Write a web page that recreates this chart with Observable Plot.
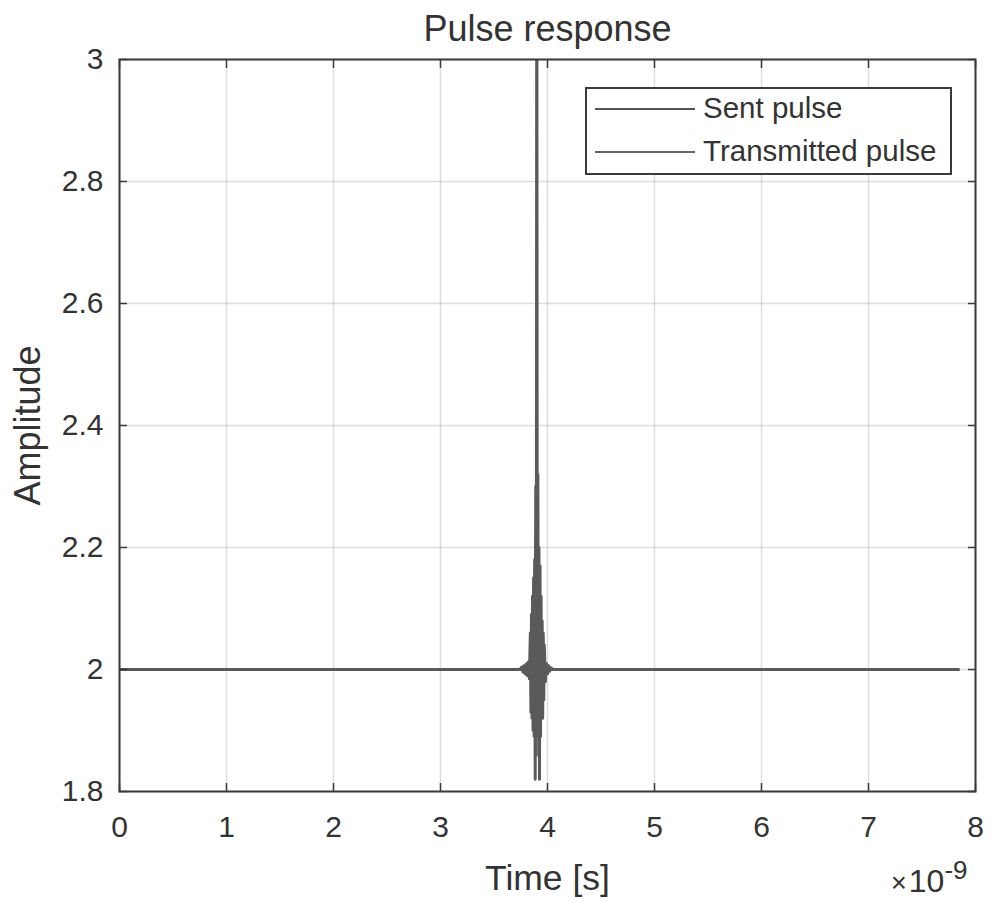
<!DOCTYPE html>
<html>
<head>
<meta charset="utf-8">
<script src="https://cdn.jsdelivr.net/npm/d3@7"></script>
<script src="https://cdn.jsdelivr.net/npm/@observablehq/plot@0.6"></script>
<style>
  html, body { margin: 0; padding: 0; background: #fff; }
  #wrap { position: relative; width: 992px; height: 901px; font-family: "Liberation Sans", Arial, sans-serif; color: #333; overflow: hidden; }
  #legend { position: absolute; left: 585px; top: 87px; width: 363px; height: 84px; border: 2px solid #3a3a3a; background: #fff; }
  .lg { position: absolute; left: 8px; height: 0; width: 100px; border-top: 2px solid #555; }
  .lt { position: absolute; left: 116px; font-size: 29.5px; line-height: 30px; color: #333; white-space: nowrap; }
  #exp { position: absolute; left: 891px; top: 865px; font-size: 32px; line-height: 32px; color: #333; white-space: nowrap; }
  #exp .x { font-size: 27px; margin-right: 2px; }
  #exp sup { font-size: 26px; line-height: 0; position: relative; top: -1px; }
</style>
</head>
<body>
<div id="wrap"></div>
<script>
// time in units of 1e-9 s
const xTicks = [0, 1, 2, 3, 4, 5, 6, 7, 8];
const yTicks = [1.8, 2, 2.2, 2.4, 2.6, 2.8, 3];
const seriesNames = ["Sent pulse", "Transmitted pulse"];

const sentTime = [0, 3.74, 3.76, 3.77, 3.78, 3.79, 3.80, 3.81, 3.82, 3.83, 3.84, 3.845, 3.85, 3.855, 3.86, 3.865, 3.87, 3.875, 3.88, 3.885, 3.89, 3.895, 3.90, 3.905, 3.91, 3.915, 3.92, 3.925, 3.93, 3.935, 3.94, 3.945, 3.95, 3.955, 3.96, 3.965, 3.97, 3.98, 3.99, 4.00, 4.01, 4.02, 4.03, 4.05, 7.84];
const sentAmp  = [2, 2, 2.004, 1.996, 2.006, 1.993, 2.009, 1.99, 2.012, 1.985, 2.06, 1.93, 2.09, 1.92, 2.12, 1.90, 2.15, 1.89, 2.18, 1.82, 2.30, 1.90, 3.3, 1.89, 2.32, 1.90, 2.2, 1.82, 2.17, 1.89, 2.12, 1.92, 2.08, 1.92, 2.06, 1.95, 2.04, 1.98, 2.01, 1.993, 2.006, 1.997, 2.003, 2, 2];

const transTime = [0, 3.76, 3.78, 3.80, 3.82, 3.84, 3.85, 3.86, 3.865, 3.87, 3.875, 3.88, 3.885, 3.89, 3.895, 3.90, 3.905, 3.91, 3.915, 3.92, 3.925, 3.93, 3.935, 3.94, 3.95, 3.96, 3.97, 3.98, 3.99, 4.00, 4.02, 7.84];
const transAmp  = [2, 2, 2.003, 1.995, 2.01, 1.985, 2.03, 2.05, 1.95, 2.1, 1.92, 2.16, 1.9, 2.22, 1.88, 2.25, 1.86, 2.2, 1.88, 2.14, 1.9, 2.1, 1.93, 2.06, 1.96, 2.03, 1.98, 2.01, 1.995, 2.004, 2, 2];

const sent = sentTime.map((t, i) => ({t, a: sentAmp[i]}));
const trans = transTime.map((t, i) => ({t, a: transAmp[i]}));

const chart = Plot.plot({
  width: 992,
  height: 901,
  marginLeft: 119,
  marginRight: 17,
  marginTop: 59,
  marginBottom: 110,
  style: { fontFamily: "Liberation Sans, Arial, sans-serif", fontSize: "30px", color: "#333", background: "#fff", overflow: "visible" },
  x: { domain: [0, 8] },
  y: { domain: [1.8, 3] },
  marks: [
    Plot.gridX(xTicks, { stroke: "#000", strokeOpacity: 0.13, strokeWidth: 1.5 }),
    Plot.gridY(yTicks, { stroke: "#000", strokeOpacity: 0.13, strokeWidth: 1.5 }),
    Plot.line(trans, { x: "t", y: "a", stroke: "#7a7a7a", strokeWidth: 3, clip: true }),
    Plot.line(sent, { x: "t", y: "a", stroke: "#5a5a5a", strokeWidth: 3, clip: true }),
    Plot.axisX(xTicks, { anchor: "bottom", tickSize: 0, tickPadding: 24, label: null, fontSize: 30, tickFormat: d => String(d) }),
    Plot.axisY(yTicks, { anchor: "left", tickSize: 0, tickPadding: 16, label: null, fontSize: 30, tickFormat: d => String(d) }),
    Plot.axisX(xTicks, { anchor: "bottom", tickSize: -8, tickFormat: () => "", label: null, stroke: "#3a3a3a", strokeWidth: 1.5 }),
    Plot.axisX(xTicks, { anchor: "top", tickSize: -8, tickFormat: () => "", label: null, stroke: "#3a3a3a", strokeWidth: 1.5 }),
    Plot.axisY(yTicks, { anchor: "left", tickSize: -8, tickFormat: () => "", label: null, stroke: "#3a3a3a", strokeWidth: 1.5 }),
    Plot.axisY(yTicks, { anchor: "right", tickSize: -8, tickFormat: () => "", label: null, stroke: "#3a3a3a", strokeWidth: 1.5 }),
    Plot.frame({ stroke: "#3a3a3a", strokeWidth: 2 }),
    Plot.text(["Pulse response"], { frameAnchor: "top", dy: -30, lineAnchor: "middle", fontSize: 36, fill: "#333" }),
    Plot.text(["Time [s]"], { frameAnchor: "bottom", dy: 87, lineAnchor: "middle", fontSize: 35.5, fill: "#333" }),
    Plot.text(["Amplitude"], { frameAnchor: "left", dx: -91, rotate: -90, textAnchor: "middle", lineAnchor: "middle", fontSize: 36, fill: "#333" })
  ]
});

const wrap = document.getElementById("wrap");
wrap.appendChild(chart);

const legend = document.createElement("div");
legend.id = "legend";
seriesNames.forEach((name, i) => {
  const ln = document.createElement("div");
  ln.className = "lg";
  ln.style.top = (19 + i * 43) + "px";
  ln.style.borderTopColor = i === 0 ? "#555" : "#666";
  legend.appendChild(ln);
  const tx = document.createElement("div");
  tx.className = "lt";
  tx.style.top = (4 + i * 43) + "px";
  tx.textContent = name;
  legend.appendChild(tx);
});
wrap.appendChild(legend);

const exp = document.createElement("div");
exp.id = "exp";
exp.innerHTML = "<span class=\"x\">\u00d7</span>10<sup>-9</sup>";
wrap.appendChild(exp);
</script>
</body>
</html>
